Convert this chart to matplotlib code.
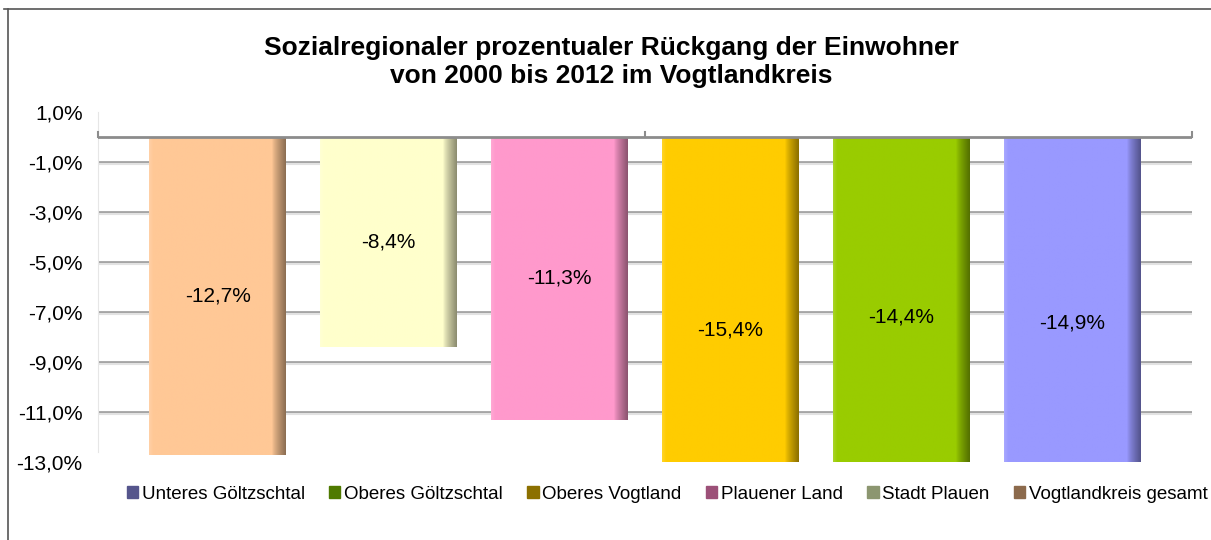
import numpy as np
import matplotlib
matplotlib.use('Agg')
from matplotlib import pyplot as plt
from matplotlib.patches import Patch
from matplotlib.colors import to_rgb

plt.rcParams['font.family'] = ['Liberation Sans', 'DejaVu Sans']

# Daten
regionen = ['Unteres Göltzschtal', 'Oberes Göltzschtal', 'Oberes Vogtland',
            'Plauener Land', 'Stadt Plauen', 'Vogtlandkreis gesamt']
rueckgang = [-12.7, -8.4, -11.3, -15.4, -14.4, -14.9]
balken_farben = ['#FFC896', '#FFFFCC', '#FF99CC', '#FFCC00', '#99CC00', '#9999FF']
legenden_farben = ['#55558C', '#4F7A00', '#8C7000', '#9C5078', '#8C9670', '#8C6A4C']
y_ticks = [1, -1, -3, -5, -7, -9, -11, -13]

fig = plt.figure(figsize=(12.11, 5.40), dpi=100)
ax = fig.add_axes([0.0809, 0.1444, 0.9034, 0.6481])
ymin, ymax = -13, 1

xs = np.arange(len(rueckgang))
bars = ax.bar(xs, rueckgang, width=0.8, color=balken_farben, zorder=2)

# 3D-artige Schattierung am rechten Rand
for bar, farbe in zip(bars, balken_farben):
    base = np.array(to_rgb(farbe))
    dunkel = base * 0.55
    t = np.linspace(0, 1, 200)
    f = np.clip((t - 0.9) / 0.1, 0, 1) ** 0.8
    hell = np.clip((0.03 - t) / 0.03, 0, 1) * 0.15
    cols = base[None, :] * (1 - f[:, None]) + dunkel[None, :] * f[:, None]
    cols = cols + (1 - cols) * hell[:, None]
    img = np.tile(cols[None, :, :], (2, 1, 1))
    x0 = bar.get_x()
    unten = max(bar.get_height(), ymin)
    ax.imshow(img, extent=(x0, x0 + bar.get_width(), unten, 0),
              aspect='auto', zorder=3, interpolation='bilinear')

for x, v in zip(xs, rueckgang):
    ax.text(x, v / 2, f'{v:.1f}%'.replace('.', ','), ha='center', va='center',
            fontsize=15, zorder=5)

ax.set_xlim(-0.7, 5.7)
ax.set_ylim(ymin, ymax)
ax.set_yticks(y_ticks)
ax.set_yticklabels([f'{v:.1f}%'.replace('.', ',') for v in y_ticks], fontsize=15)
ax.tick_params(axis='y', length=0, pad=11)
ax.set_xticks([])

for g in [-1, -3, -5, -7, -9, -11]:
    ax.axhline(g, color='#a3a3a3', lw=2, zorder=1)
    ax.axhline(g - 0.06, color='#e2e2e2', lw=1.5, zorder=1)

ax.axhline(0, color='#8c8c8c', lw=2, zorder=4)
for tx in [-0.7, 2.5, 5.7]:
    ax.plot([tx, tx], [0, 0.2], color='#8c8c8c', lw=1.5, zorder=4, clip_on=False)

for s in ['top', 'right', 'bottom']:
    ax.spines[s].set_visible(False)
ax.spines['left'].set_color('#e6e6e6')
ax.spines['left'].set_bounds(-12.6, 1)

fig.text(0.505, 0.885, 'Sozialregionaler prozentualer Rückgang der Einwohner\n'
         'von 2000 bis 2012 im Vogtlandkreis', ha='center', va='center',
         fontsize=19, fontweight='bold', linespacing=1.22)

handles = [Patch(color=c) for c in legenden_farben]
fig.legend(handles, regionen, loc='center', bbox_to_anchor=(0.551, 0.085), ncol=6,
           frameon=False, fontsize=13.5, handlelength=0.6, handleheight=0.6,
           handletextpad=0.2, columnspacing=1.3)

# Rahmen oben und links
fig.add_artist(plt.Line2D([0.003, 1], [0.983, 0.983], color='#555555', lw=1.2))
fig.add_artist(plt.Line2D([0.0066, 0.0066], [0, 0.983], color='#555555', lw=1.2))

fig.savefig('out.png', dpi=100)
